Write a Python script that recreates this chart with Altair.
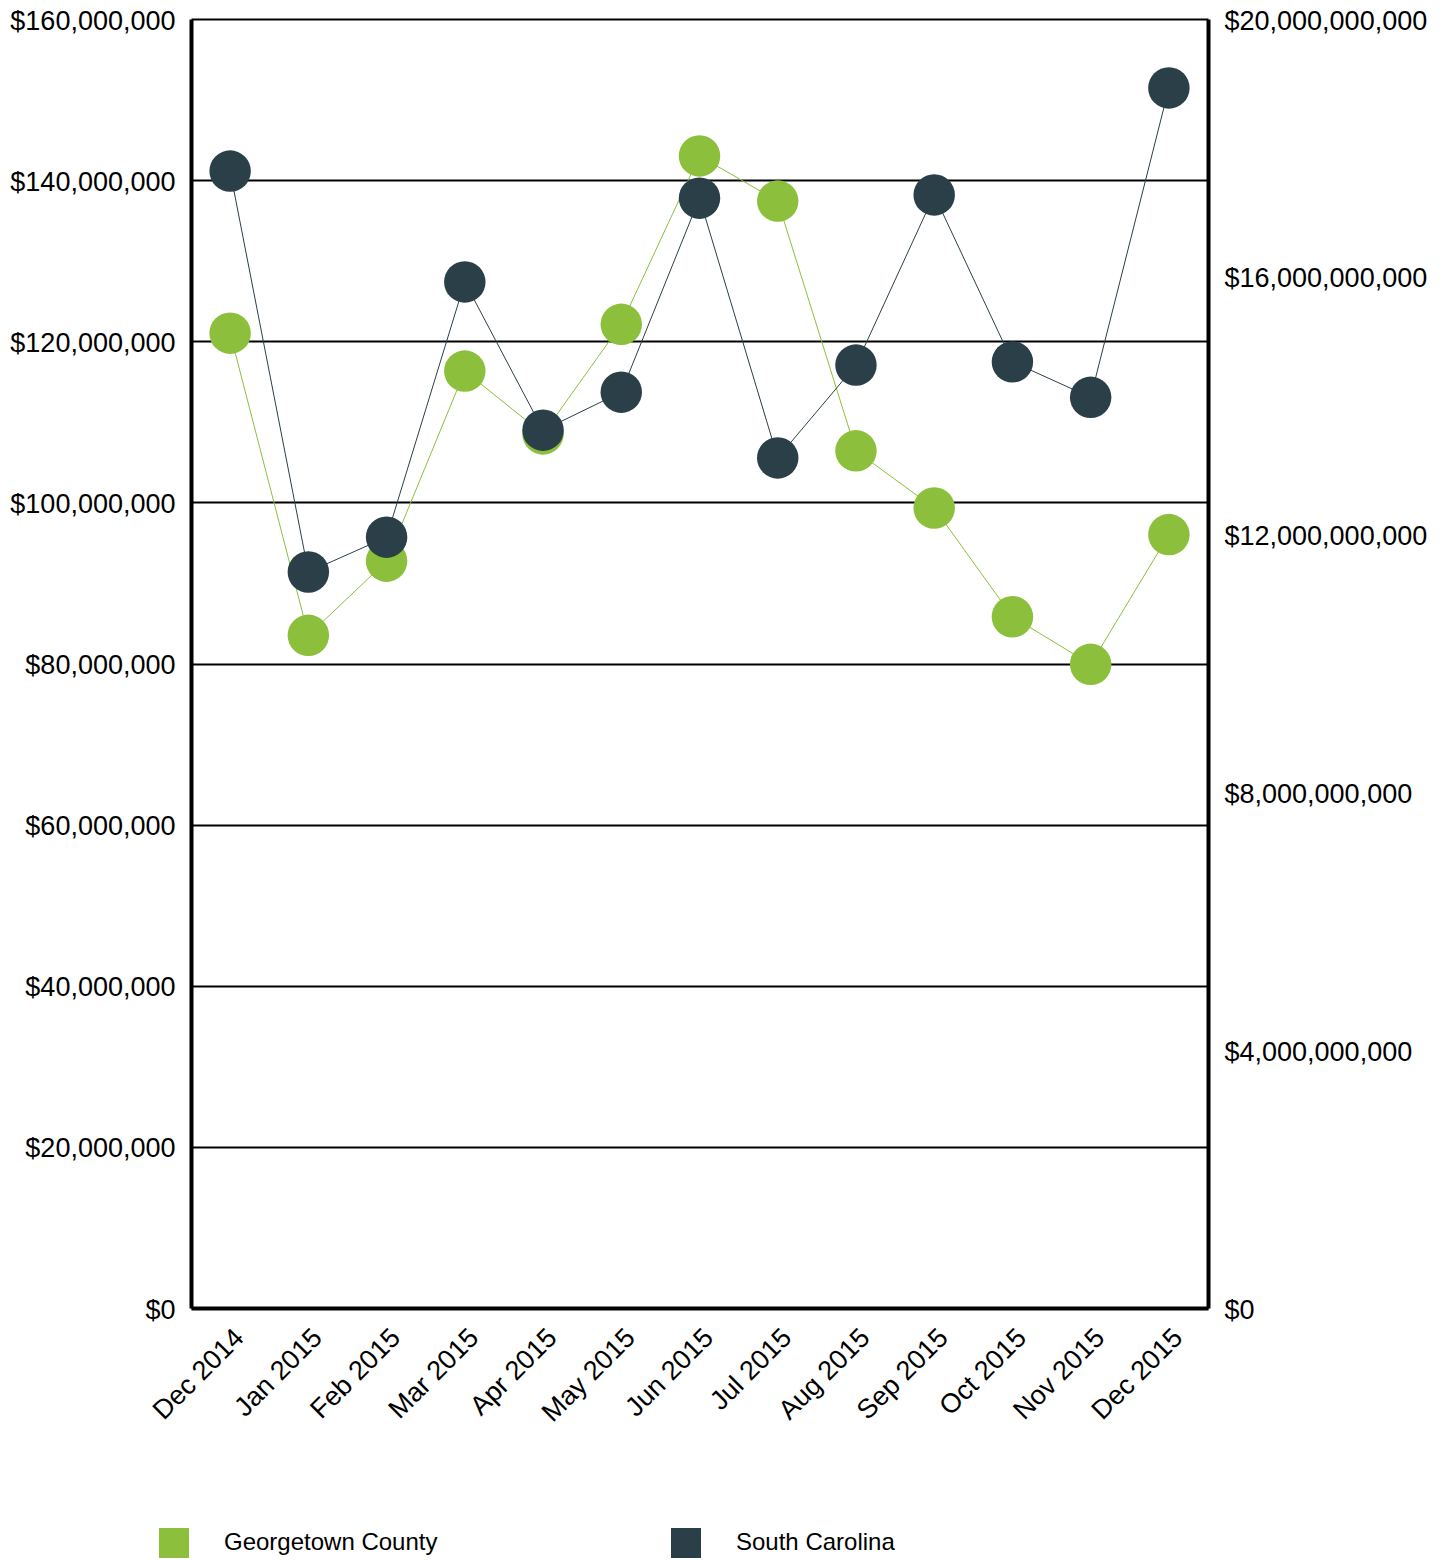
import altair as alt
import pandas as pd

months = ["Dec 2014", "Jan 2015", "Feb 2015", "Mar 2015", "Apr 2015", "May 2015",
          "Jun 2015", "Jul 2015", "Aug 2015", "Sep 2015", "Oct 2015", "Nov 2015", "Dec 2015"]
georgetown = [121.0e6, 83.5e6, 92.7e6, 116.3e6, 108.5e6, 122.1e6, 143.0e6,
              137.4e6, 106.4e6, 99.3e6, 85.8e6, 79.9e6, 96.0e6]
south_carolina = [17.64e9, 11.42e9, 11.96e9, 15.92e9, 13.62e9, 14.21e9, 17.22e9,
                  13.19e9, 14.63e9, 17.27e9, 14.68e9, 14.13e9, 18.93e9]
series_names = ["Georgetown County", "South Carolina"]
series_colors = ["#8cbf3c", "#2b3f48"]

gt = pd.DataFrame({"month": months, "value": georgetown, "series": series_names[0]})
sc = pd.DataFrame({"month": months, "value": south_carolina, "series": series_names[1]})

FONT = "Liberation Sans"
FS = 27

x = alt.X("month:O", sort=months, title=None,
          axis=alt.Axis(labelAngle=-45, labelFontSize=FS, labelColor="#000", ticks=False,
                        labelPadding=16, domainColor="#000", domainWidth=4, grid=False,
                        labelLimit=400))
color = alt.Color("series:N",
                  scale=alt.Scale(domain=series_names, range=series_colors),
                  legend=alt.Legend(title=None, orient="none", direction="horizontal",
                                    legendX=-32, legendY=1509, symbolType="square",
                                    symbolSize=900, symbolStrokeWidth=0, symbolOpacity=1,
                                    labelFontSize=24, labelColor="#000", labelOffset=35,
                                    columnPadding=233, padding=0, labelLimit=400))

left_base = alt.Chart(gt).encode(
    x=x,
    y=alt.Y("value:Q", title=None,
            scale=alt.Scale(domain=[0, 160e6], nice=False),
            axis=alt.Axis(orient="left", values=[i * 20e6 for i in range(9)], format="$,.0f",
                          labelFontSize=FS, labelColor="#000", ticks=False, labelPadding=16,
                          labelOffset=2, labelLimit=400,
                          domainColor="#000", domainWidth=4, grid=True, gridColor="#000",
                          gridWidth=2, gridOpacity=1)),
    color=color,
)
left = alt.layer(
    left_base.mark_line(strokeWidth=1),
    left_base.mark_circle(size=1720, opacity=1),
)

right_base = alt.Chart(sc).encode(
    x=x,
    y=alt.Y("value:Q", title=None,
            scale=alt.Scale(domain=[0, 20e9], nice=False),
            axis=alt.Axis(orient="right", values=[i * 4e9 for i in range(6)], format="$,.0f",
                          labelFontSize=FS, labelColor="#000", ticks=False, labelPadding=16,
                          labelOffset=2, labelLimit=400,
                          domainColor="#000", domainWidth=4, grid=False)),
    color=color,
)
right = alt.layer(
    right_base.mark_line(strokeWidth=1),
    right_base.mark_circle(size=1720, opacity=1),
)

chart = alt.layer(left, right).resolve_scale(y="independent").properties(
    width=1017, height=1289,
    autosize=alt.AutoSizeParams(type="none"),
    padding={"left": 183, "top": 11, "right": 232, "bottom": 250},
).configure(font=FONT).configure_view(strokeWidth=0)

chart.save("out.html", embed_options={"renderer": "svg", "actions": False})
